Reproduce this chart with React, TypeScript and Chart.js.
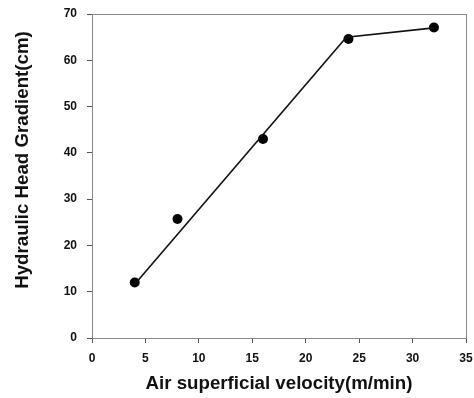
import React, { useEffect, useRef } from "react";
import { Chart, registerables } from "chart.js";

Chart.register(...registerables);

const velocity = [4, 8, 16, 24, 32];
const gradient = [12, 25.7, 43, 64.6, 67.1];
const fitVelocity = [4, 23.8, 32];
const fitGradient = [11.6, 65, 67];
const xTitle = "Air superficial velocity(m/min)";
const yTitle = "Hydraulic Head Gradient(cm)";

const FONT = "'Liberation Sans', Arial, sans-serif";

const framePlugin = {
  id: "frameAndTitles",
  beforeDatasetsDraw(chart: any) {
    const { ctx, chartArea } = chart;
    ctx.save();
    ctx.strokeStyle = "#8a8a8a";
    ctx.lineWidth = 1;
    ctx.strokeRect(
      Math.round(chartArea.left) + 0.5,
      Math.round(chartArea.top) + 0.5,
      Math.round(chartArea.right - chartArea.left),
      Math.round(chartArea.bottom - chartArea.top)
    );
    ctx.restore();
  },
  afterDraw(chart: any) {
    const { ctx, chartArea } = chart;
    ctx.save();
    ctx.fillStyle = "#111";
    ctx.font = `bold 18.7px ${FONT}`;
    ctx.textAlign = "center";
    ctx.textBaseline = "middle";
    ctx.fillText(xTitle, (chartArea.left + chartArea.right) / 2, 384);
    ctx.translate(23, 160);
    ctx.rotate(-Math.PI / 2);
    ctx.fillText(yTitle, 0, 0);
    ctx.restore();
  },
};

export default function App() {
  const ref = useRef<HTMLCanvasElement>(null);
  useEffect(() => {
    if (!ref.current) return;
    const chart = new Chart(ref.current, {
      type: "scatter",
      data: {
        datasets: [
          {
            label: "fit",
            data: fitVelocity.map((x, i) => ({ x, y: fitGradient[i] })),
            showLine: true,
            borderColor: "#111",
            borderWidth: 1.6,
            pointRadius: 0,
            fill: false,
          },
          {
            label: "data",
            data: velocity.map((x, i) => ({ x, y: gradient[i] })),
            showLine: false,
            backgroundColor: "#000",
            borderColor: "#000",
            pointRadius: 5,
            pointBorderWidth: 0,
          },
        ],
      },
      options: {
        animation: false,
        responsive: false,
        maintainAspectRatio: false,
        layout: { padding: { left: 0, top: 14, right: 8, bottom: 0 } },
        plugins: { legend: { display: false }, tooltip: { enabled: false } },
        scales: {
          x: {
            type: "linear",
            min: 0,
            max: 35,
            afterFit: (s: any) => {
              s.height = 60;
              s.paddingLeft = 0;
              s.paddingRight = 0;
            },
            ticks: {
              stepSize: 5,
              color: "#111",
              font: { family: FONT, size: 12, weight: "bold" },
              padding: 8,
            },
            grid: { drawOnChartArea: false, drawTicks: true, tickLength: 5, color: "#555" },
            border: { display: false },
          },
          y: {
            type: "linear",
            min: 0,
            max: 70,
            afterFit: (s: any) => {
              s.width = 92;
              s.paddingTop = 0;
              s.paddingBottom = 0;
            },
            ticks: {
              stepSize: 10,
              color: "#111",
              font: { family: FONT, size: 12, weight: "bold" },
              padding: 10,
            },
            grid: { drawOnChartArea: false, drawTicks: true, tickLength: 5, color: "#555" },
            border: { display: false },
          },
        },
      },
      plugins: [framePlugin],
    });
    return () => chart.destroy();
  }, []);
  return (
    <div style={{ position: "absolute", left: 0, top: 0, width: 474, height: 398, background: "#fff" }}>
      <canvas ref={ref} width={474} height={398} style={{ width: 474, height: 398 }} />
    </div>
  );
}
